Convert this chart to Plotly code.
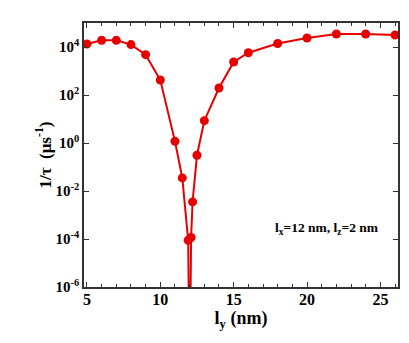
import plotly.graph_objects as go

ly = [5, 6, 7, 8, 9, 10, 11, 11.5, 11.9, 12.0, 12.1, 12.2, 12.5, 13,
      14, 15, 16, 18, 20, 22, 24, 26]
rate = [1.33e4, 1.9e4, 1.9e4, 1.26e4, 4.8e3, 4.2e2, 1.17, 3.5e-2, 8.9e-5,
        1e-10, 1.15e-4, 3.5e-3, 0.31, 8.5, 195, 2.37e3, 5.75e3, 1.4e4,
        2.37e4, 3.47e4, 3.47e4, 3.16e4]

y_ticks = [1e-6, 1e-4, 1e-2, 1e0, 1e2, 1e4]
y_labels = ["10<sup>-6</sup>", "10<sup>-4</sup>", "10<sup>-2</sup>",
            "10<sup>0</sup>", "10<sup>2</sup>", "10<sup>4</sup>"]
x_ticks = [5, 10, 15, 20, 25]

red = "#e60000"
serif = "Liberation Serif"

fig = go.Figure()
fig.add_trace(go.Scatter(
    x=ly, y=rate, mode="lines+markers",
    line=dict(color=red, width=2),
    marker=dict(color=red, size=9),
    showlegend=False,
))

fig.add_annotation(
    x=0.774, y=0.22, xref="paper", yref="paper", showarrow=False,
    xanchor="center", yanchor="middle",
    text="l<sub>x</sub>=12 nm, l<sub>z</sub>=2 nm",
    font=dict(family=serif, size=13.5, color="black", weight="bold"),
)

fig.update_layout(
    width=409, height=343,
    margin=dict(l=76, r=19, t=15, b=64),
    plot_bgcolor="white", paper_bgcolor="white",
    font=dict(family=serif, color="black", weight="bold"),
)
fig.update_xaxes(
    range=[4.8, 26.2], tickvals=x_ticks,
    ticks="inside", ticklen=5, tickcolor="#333", ticklabelstandoff=-3,
    minor=dict(dtick=1, ticks="inside", ticklen=3, tickcolor="#333"),
    showline=True, linecolor="#333", linewidth=1.5, mirror="ticks",
    showgrid=False, zeroline=False,
    tickfont=dict(family=serif, size=16, weight="bold"),
    title=dict(text="l<sub>y</sub> (nm)", standoff=0,
               font=dict(family=serif, size=18, weight="bold")),
)
fig.update_yaxes(
    type="log", range=[-6, 5], tickvals=y_ticks, ticktext=y_labels,
    ticks="inside", ticklen=5, tickcolor="#333",
    showline=True, linecolor="#333", linewidth=1.5, mirror="ticks",
    showgrid=False, zeroline=False,
    tickfont=dict(family=serif, size=15, weight="bold"),
    title=dict(text="1/τ  (μs<sup>-1</sup>)", standoff=0,
               font=dict(family=serif, size=17, weight="bold")),
)

fig.write_html("out.html")
